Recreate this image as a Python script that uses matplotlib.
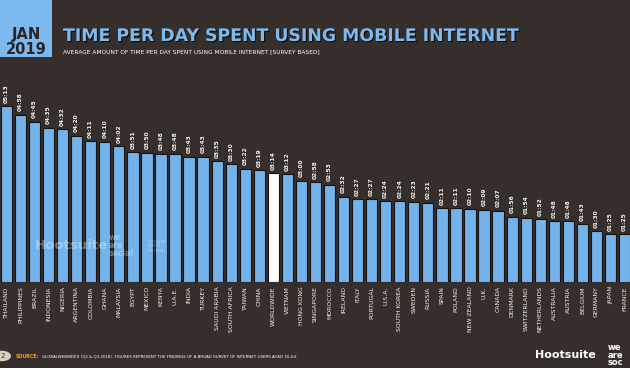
import matplotlib
matplotlib.use("Agg")
import matplotlib.pyplot as plt
import matplotlib.patheffects as pe
from matplotlib.patches import Rectangle, Circle

countries = ["THAILAND", "PHILIPPINES", "BRAZIL", "INDONESIA", "NIGERIA", "ARGENTINA",
             "COLOMBIA", "GHANA", "MALAYSIA", "EGYPT", "MEXICO", "KENYA", "U.A.E.",
             "INDIA", "TURKEY", "SAUDI ARABIA", "SOUTH AFRICA", "TAIWAN", "CHINA",
             "WORLDWIDE", "VIETNAM", "HONG KONG", "SINGAPORE", "MOROCCO", "IRELAND",
             "ITALY", "PORTUGAL", "U.S.A.", "SOUTH KOREA", "SWEDEN", "RUSSIA", "SPAIN",
             "POLAND", "NEW ZEALAND", "U.K.", "CANADA", "DENMARK", "SWITZERLAND",
             "NETHERLANDS", "AUSTRALIA", "AUSTRIA", "BELGIUM", "GERMANY", "JAPAN", "FRANCE"]
time_labels = ["05:13", "04:58", "04:45", "04:35", "04:32", "04:20", "04:11", "04:10",
               "04:02", "03:51", "03:50", "03:48", "03:48", "03:43", "03:43", "03:35",
               "03:30", "03:22", "03:19", "03:14", "03:12", "03:00", "02:58", "02:53",
               "02:32", "02:27", "02:27", "02:24", "02:24", "02:23", "02:21", "02:11",
               "02:11", "02:10", "02:09", "02:07", "01:56", "01:54", "01:52", "01:48",
               "01:48", "01:43", "01:30", "01:25", "01:25"]
minutes = [int(t.split(":")[0]) * 60 + int(t.split(":")[1]) for t in time_labels]
highlight = "WORLDWIDE"

BG = "#362e2a"
BLUE = "#73b3ec"
TITLE_BLUE = "#7cb9ef"
NARROW = ["Liberation Sans Narrow", "DejaVu Sans"]

W, H = 630, 368
fig = plt.figure(figsize=(W / 100, H / 100), dpi=100)
fig.patch.set_facecolor(BG)

ax = fig.add_axes([0, 1 - 282 / H, 1, 191 / H])
ax.set_facecolor(BG)
colors = ["white" if c == highlight else BLUE for c in countries]
x = list(range(len(countries)))
ax.bar(x, minutes, width=0.8, color=colors, edgecolor="#161210", linewidth=0.8)
ax.set_xlim(-0.46, len(countries) - 1 + 0.39)
ax.set_ylim(0, 340)
for s in ax.spines.values():
    s.set_visible(False)
ax.set_yticks([])
ax.set_xticks(x)
ax.set_xticklabels(countries, rotation=90, fontsize=4.4, color="#f2f2f2", va="top")
ax.tick_params(axis="x", length=0, pad=3)

for xi, m, lab in zip(x, minutes, time_labels):
    ax.annotate(lab, (xi, m), xytext=(0, 2.5), textcoords="offset points",
                rotation=90, ha="center", va="bottom", fontsize=4.2,
                color="#f2f2f2", fontweight="bold")

# watermarks
ax.text(0.055, 0.19, "Hootsuite", transform=ax.transAxes, fontsize=9.5, fontweight="bold",
        color="white", alpha=0.35, va="center")
ax.text(0.172, 0.19, "we\nare\nsocial", transform=ax.transAxes, fontsize=5.5, fontweight="bold",
        color="white", alpha=0.35, va="center", linespacing=0.85)
ax.text(0.235, 0.19, "global\nweb\nindex", transform=ax.transAxes, fontsize=4.5,
        color="white", alpha=0.35, va="center", linespacing=0.85)

# header box
fig.patches.append(Rectangle((0, 1 - 57 / H), 52 / W, 57 / H, transform=fig.transFigure,
                             facecolor=TITLE_BLUE, edgecolor="none"))
fig.text(26 / W, 1 - 35 / H, "JAN", ha="center", va="center", fontsize=10.5,
         fontweight="bold", color="#2a2523")
fig.text(26 / W, 1 - 50 / H, "2019", ha="center", va="center", fontsize=10.5,
         fontweight="bold", color="#2a2523")

fig.canvas.draw()
renderer = fig.canvas.get_renderer()

def fit(t, target_px):
    bb = t.get_window_extent(renderer)
    t.set_fontsize(t.get_fontsize() * target_px / bb.width)

title = fig.text(63 / W, 1 - 36 / H, "TIME PER DAY SPENT USING MOBILE INTERNET",
                 ha="left", va="center", fontsize=18, fontweight="bold", color=TITLE_BLUE,
                 family=NARROW,
                 path_effects=[pe.withSimplePatchShadow(offset=(0.8, -0.8), shadow_rgbFace="black", alpha=0.8)])
fit(title, 455)
sub = fig.text(63 / W, 1 - 52 / H,
               "AVERAGE AMOUNT OF TIME PER DAY SPENT USING MOBILE INTERNET [SURVEY BASED]",
               ha="left", va="center", fontsize=5, color="white", family=NARROW)
fit(sub, 255)

# footer
fig.patches.append(Circle((2 / W, 1 - 356 / H), 9 / W, transform=fig.transFigure,
                          facecolor="#d8cfc0", edgecolor="none"))
fig.text(3 / W, 1 - 356 / H, "2", ha="center", va="center", fontsize=5, color="#333333")
s1 = fig.text(16 / W, 1 - 356 / H, "SOURCE:", ha="left", va="center", fontsize=3.4,
              fontweight="bold", color="#f0a830")
fig.canvas.draw()
bb = s1.get_window_extent(renderer)
src = fig.text((bb.x1 + 2) / W, 1 - 356 / H,
               "GLOBALWEBINDEX (Q2 & Q3 2018). FIGURES REPRESENT THE FINDINGS OF A BROAD SURVEY OF INTERNET USERS AGED 16-64.",
               ha="left", va="center", fontsize=3.4, color="white", family=NARROW)
fit(src, 300 - bb.x1 - 2)

fig.text(535 / W, 1 - 355 / H, "Hootsuite", ha="left", va="center", fontsize=8,
         fontweight="bold", color="white")
fig.text(608 / W, 1 - 355 / H, "we\nare\nsoc", ha="left", va="center", fontsize=6,
         fontweight="bold", color="white", linespacing=0.8)

fig.savefig("out.png", dpi=100, facecolor=BG)
